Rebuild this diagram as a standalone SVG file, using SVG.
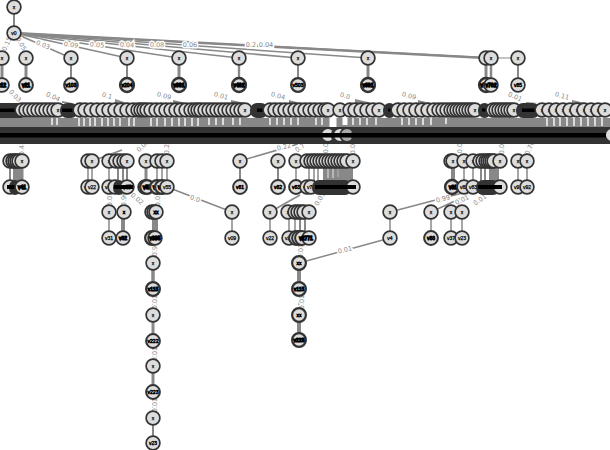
<svg xmlns="http://www.w3.org/2000/svg" width="610" height="450" viewBox="0 0 610 450">
<style>
svg{background:#fff}
.n circle{fill:#ddd;stroke:#333;stroke-width:1.7;r:6.9px}
.n text{font:5px "Liberation Sans",sans-serif;fill:#000;text-anchor:middle;dominant-baseline:central;stroke:#000;stroke-width:.25}
.e line{stroke:#888;stroke-width:1.5}
.l text{font:6.5px "DejaVu Sans",sans-serif;fill:#888;text-anchor:middle;dominant-baseline:central;stroke:#fff;stroke-width:3px;paint-order:stroke}
.d{fill:#333}
.b{fill:#000}
.t line{stroke:#fff;stroke-width:1.4}
.w{fill:#888}
</style>
<g style="opacity:.999">
<g id="connectors">
<g class="e">
<line x1="14" y1="7" x2="14" y2="33" style="stroke-width:2"/>
<line x1="14" y1="33" x2="2" y2="58"/><line x1="14" y1="33" x2="26" y2="58"/><line x1="14" y1="33" x2="71" y2="58"/><line x1="14" y1="33" x2="127" y2="58"/><line x1="14" y1="33" x2="179" y2="58"/><line x1="14" y1="33" x2="239" y2="58"/><line x1="14" y1="33" x2="298" y2="58"/><line x1="14" y1="33" x2="368" y2="58"/><line x1="14" y1="33" x2="486" y2="58" style="stroke-width:2.6"/><line x1="14" y1="33" x2="491" y2="58" style="stroke-width:1.6"/><line x1="491" y1="58" x2="518" y2="58" style="stroke-width:1"/>
<line x1="2" y1="58" x2="2" y2="85" style="stroke-width:3"/><line x1="26" y1="58" x2="26" y2="85" style="stroke-width:3"/><line x1="71" y1="58" x2="71" y2="85" style="stroke-width:2"/><line x1="127" y1="58" x2="127" y2="85" style="stroke-width:2"/><line x1="179" y1="58" x2="179" y2="85" style="stroke-width:3"/><line x1="239" y1="58" x2="239" y2="85" style="stroke-width:2.4"/><line x1="298" y1="58" x2="298" y2="85" style="stroke-width:2"/><line x1="368" y1="58" x2="368" y2="85" style="stroke-width:3"/><line x1="486" y1="58" x2="486" y2="85" style="stroke-width:3"/><line x1="491" y1="58" x2="491" y2="85" style="stroke-width:2.5"/><line x1="518" y1="58" x2="518" y2="85" style="stroke-width:2"/>
<line x1="10" y1="161" x2="10" y2="187" style="stroke-width:2"/><line x1="14" y1="161" x2="14" y2="187" style="stroke-width:2"/><line x1="19" y1="161" x2="19" y2="187" style="stroke-width:9"/>
<line x1="88" y1="161" x2="88" y2="187"/><line x1="92" y1="161" x2="92" y2="187"/><line x1="109" y1="161" x2="109" y2="187"/><line x1="118" y1="161" x2="118" y2="187" style="stroke-width:2"/><line x1="123" y1="161" x2="123" y2="187" style="stroke-width:2"/><line x1="127" y1="161" x2="127" y2="187" style="stroke-width:2"/>
<line x1="146" y1="161" x2="146" y2="187" style="stroke-width:3"/><line x1="157" y1="161" x2="157" y2="187"/><line x1="162" y1="161" x2="162" y2="187"/><line x1="167" y1="161" x2="167" y2="187"/><line x1="240" y1="161" x2="240" y2="187" style="stroke-width:2"/><line x1="278" y1="161" x2="278" y2="187" style="stroke-width:2"/><line x1="296" y1="161" x2="296" y2="187"/>
<line x1="309" y1="161" x2="309" y2="187"/><line x1="314" y1="161" x2="314" y2="187"/><line x1="318" y1="161" x2="318" y2="187"/><line x1="338" y1="168" x2="338" y2="187" style="stroke-width:30"/>
<line x1="453" y1="161" x2="453" y2="187" style="stroke-width:4"/><line x1="464" y1="161" x2="464" y2="187"/><line x1="473" y1="161" x2="473" y2="187"/><line x1="481" y1="161" x2="481" y2="187" style="stroke-width:2"/><line x1="485" y1="161" x2="485" y2="187" style="stroke-width:2"/><line x1="494" y1="161" x2="494" y2="187" style="stroke-width:10"/><line x1="518" y1="161" x2="518" y2="187"/><line x1="527" y1="161" x2="527" y2="187"/>
<line x1="109" y1="212" x2="109" y2="238"/><line x1="123" y1="212" x2="123" y2="238" style="stroke-width:4"/><line x1="155" y1="212" x2="155" y2="238" style="stroke-width:6"/><line x1="232" y1="212" x2="232" y2="238"/><line x1="270" y1="212" x2="270" y2="238"/><line x1="289" y1="212" x2="289" y2="238"/><line x1="295" y1="212" x2="295" y2="238"/><line x1="300" y1="212" x2="300" y2="238" style="stroke-width:2"/><line x1="305" y1="212" x2="305" y2="238" style="stroke-width:2"/><line x1="390" y1="212" x2="390" y2="238"/><line x1="431" y1="212" x2="431" y2="238"/><line x1="451" y1="212" x2="451" y2="238"/><line x1="462" y1="212" x2="462" y2="238"/>
<line x1="153" y1="238" x2="153" y2="263"/><line x1="153" y1="263" x2="153" y2="289" style="stroke-width:3.5"/><line x1="153" y1="289" x2="153" y2="315"/><line x1="153" y1="315" x2="153" y2="341" style="stroke-width:3"/><line x1="153" y1="341" x2="153" y2="366"/><line x1="153" y1="366" x2="153" y2="392" style="stroke-width:3"/><line x1="153" y1="392" x2="153" y2="418"/><line x1="153" y1="418" x2="153" y2="443" style="stroke-width:2"/>
<line x1="299" y1="238" x2="299" y2="263"/><line x1="299" y1="263" x2="299" y2="289" style="stroke-width:4"/><line x1="299" y1="289" x2="299" y2="315"/><line x1="299" y1="315" x2="299" y2="340" style="stroke-width:4"/>
<line x1="390" y1="238" x2="299" y2="263"/><line x1="167" y1="187" x2="232" y2="212"/><line x1="240" y1="161" x2="322" y2="137"/><line x1="390" y1="212" x2="470" y2="191"/><line x1="431" y1="212" x2="468" y2="195"/><line x1="270" y1="212" x2="300" y2="195"/><line x1="92" y1="161" x2="122" y2="150"/>
</g>
<rect class="w" x="0" y="118" width="610" height="9"/>
<g class="t">
<line x1="52" y1="118" x2="52" y2="125"/><line x1="57" y1="118" x2="57" y2="125"/><line x1="79" y1="118" x2="79" y2="126"/><line x1="84" y1="118" x2="84" y2="126"/><line x1="90" y1="118" x2="90" y2="126"/><line x1="95" y1="118" x2="95" y2="126"/><line x1="102" y1="118" x2="102" y2="126"/><line x1="108" y1="118" x2="108" y2="126"/><line x1="114" y1="118" x2="114" y2="126"/><line x1="120" y1="118" x2="120" y2="126"/><line x1="129" y1="118" x2="129" y2="126"/><line x1="134" y1="118" x2="134" y2="126"/><line x1="151" y1="118" x2="151" y2="126"/><line x1="157" y1="118" x2="157" y2="126"/><line x1="165" y1="118" x2="165" y2="126"/><line x1="172" y1="118" x2="172" y2="126"/><line x1="179" y1="118" x2="179" y2="126"/><line x1="185" y1="118" x2="185" y2="126"/><line x1="192" y1="118" x2="192" y2="126"/><line x1="198" y1="118" x2="198" y2="126"/><line x1="209" y1="118" x2="209" y2="125"/><line x1="216" y1="118" x2="216" y2="125"/><line x1="223" y1="118" x2="223" y2="125"/><line x1="233" y1="118" x2="233" y2="125"/><line x1="240" y1="118" x2="240" y2="125"/><line x1="270" y1="118" x2="270" y2="125"/><line x1="277" y1="118" x2="277" y2="125"/><line x1="284" y1="118" x2="284" y2="125"/><line x1="291" y1="118" x2="291" y2="125"/><line x1="298" y1="118" x2="298" y2="125"/><line x1="316" y1="118" x2="316" y2="125"/><line x1="322" y1="118" x2="322" y2="125"/>
<line x1="333" y1="118" x2="333" y2="127" style="stroke-width:7"/><line x1="345" y1="118" x2="345" y2="125" style="stroke-width:5"/>
<line x1="353" y1="118" x2="353" y2="125"/><line x1="360" y1="118" x2="360" y2="125"/><line x1="367" y1="118" x2="367" y2="125"/><line x1="376" y1="118" x2="376" y2="125"/><line x1="402" y1="118" x2="402" y2="125"/><line x1="409" y1="118" x2="409" y2="125"/><line x1="416" y1="118" x2="416" y2="125"/><line x1="423" y1="118" x2="423" y2="125"/><line x1="431" y1="118" x2="431" y2="125"/><line x1="446" y1="118" x2="446" y2="124"/><line x1="547" y1="118" x2="547" y2="126"/><line x1="554" y1="118" x2="554" y2="126"/><line x1="560" y1="118" x2="560" y2="126"/><line x1="567" y1="118" x2="567" y2="126"/><line x1="574" y1="118" x2="574" y2="126"/><line x1="581" y1="118" x2="581" y2="126"/><line x1="588" y1="118" x2="588" y2="126"/><line x1="595" y1="118" x2="595" y2="126"/><line x1="602" y1="118" x2="602" y2="126"/>
<line x1="328" y1="168" x2="328" y2="178" style="stroke:#ccc"/><line x1="333" y1="168" x2="333" y2="178" style="stroke:#ccc"/><line x1="338" y1="168" x2="338" y2="177" style="stroke:#aaa"/>
</g>
<g class="w">
<polygon points="115,99 127,103 115,103"/><polygon points="173,100 186,103 173,103"/><polygon points="231,100 245,103 231,103"/><polygon points="289,100 300,103 289,103"/><polygon points="355,99 372,103 355,103"/><polygon points="418,100 430,103 418,103"/><polygon points="526,102 538,103 526,103"/><polygon points="572,100 585,103 572,103"/><polygon points="62,101 72,103 62,103"/>
</g>
<g class="l">
<text x="7" y="44" transform="rotate(-65 7 44)">0.15</text><text x="21" y="44" transform="rotate(60 21 44)">0.05</text><text x="43" y="45" transform="rotate(22 43 45)">0.03</text><text x="71" y="45" transform="rotate(8 71 45)">0.09</text><text x="97" y="45" transform="rotate(5 97 45)">0.05</text><text x="127" y="45" transform="rotate(3 127 45)">0.04</text><text x="157" y="45" transform="rotate(2 157 45)">0.08</text><text x="190" y="45">0.06</text><text x="251" y="45">0.2</text><text x="266" y="45">0.04</text>
<text x="15" y="96" transform="rotate(45 15 96)">0.03</text><text x="53" y="97" transform="rotate(25 53 97)">0.04</text><text x="107" y="96" transform="rotate(15 107 96)">0.1</text><text x="164" y="96" transform="rotate(15 164 96)">0.09</text><text x="221" y="96" transform="rotate(15 221 96)">0.01</text><text x="278" y="96" transform="rotate(15 278 96)">0.04</text><text x="345" y="96" transform="rotate(15 345 96)">0.0</text><text x="409" y="96" transform="rotate(15 409 96)">0.09</text><text x="515" y="97" transform="rotate(25 515 97)">0.01</text><text x="562" y="96" transform="rotate(15 562 96)">0.11</text>
<text x="22" y="148" transform="rotate(-90 22 148)">0.41</text><text x="143" y="146" transform="rotate(-45 143 146)">0.08</text><text x="167" y="147" transform="rotate(-90 167 147)">0.21</text><text x="284" y="147" transform="rotate(-15 284 147)">0.22</text><text x="300" y="148" transform="rotate(-35 300 148)">0.7</text><text x="326" y="148" transform="rotate(-90 326 148)">0.0</text><text x="353" y="147" transform="rotate(-90 353 147)">0.05</text><text x="460" y="148" transform="rotate(-90 460 148)">0.0</text><text x="502" y="147" transform="rotate(-90 502 147)">0.01</text><text x="530" y="148" transform="rotate(-65 530 148)">0.76</text>
<text x="110" y="199" transform="rotate(-90 110 199)">0.01</text><text x="124" y="199" transform="rotate(-90 124 199)">0.96</text><text x="137" y="199" transform="rotate(40 137 199)">0.02</text><text x="158" y="199" transform="rotate(-90 158 199)">0.01</text><text x="195" y="199" transform="rotate(20 195 199)">0.0</text><text x="320" y="199" transform="rotate(-60 320 199)">0.01</text><text x="443" y="199" transform="rotate(-15 443 199)">0.99</text><text x="462" y="200" transform="rotate(-25 462 200)">0.01</text><text x="480" y="200" transform="rotate(-35 480 200)">0.01</text>
<text x="155" y="251" transform="rotate(-90 155 251)">0.9</text><text x="155" y="302" transform="rotate(-90 155 302)">0.01</text><text x="155" y="354" transform="rotate(-90 155 354)">0.01</text><text x="155" y="405" transform="rotate(-90 155 405)">0.01</text><text x="301" y="251" transform="rotate(-90 301 251)">0.01</text><text x="302" y="302" transform="rotate(-90 302 302)">0.01</text><text x="345" y="250" transform="rotate(-15 345 250)">0.01</text>
</g>
</g>
<g id="bus-y135">
<rect class="d" x="0" y="127" width="610" height="17"/>
<g class="n" id="n135a"><circle cx="328" cy="135"/></g>
<rect class="d" x="331" y="127" width="14" height="17" rx="8"/>
<g class="n" id="n135b"><circle cx="340" cy="135"/></g>
<rect class="d" x="343" y="127" width="14" height="17" rx="8"/>
<g class="n" id="n135c"><circle cx="347" cy="135" style="fill:#aaa"/></g>
<rect class="d" x="351" y="127" width="252" height="17" rx="8"/>
<g class="n" id="n135z"><circle cx="612" cy="135"/></g>
<rect class="b" x="0" y="133" width="606" height="4.5"/>
</g>
<g id="n-top">
<g class="n" id="r"><circle cx="14" cy="7"/><text x="14" y="7">x</text></g>
<g class="n" id="v0"><circle cx="14" cy="33"/><text x="14" y="33">v0</text></g>
<g class="n" id="a1"><circle cx="2" cy="58"/><text x="2" y="58">x</text></g><g class="n" id="a1b"><circle cx="2" cy="85"/><text x="2" y="85" style="stroke-width:1.4">v12</text></g>
<g class="n" id="a2"><circle cx="26" cy="58"/><text x="26" y="58">x</text></g><g class="n" id="a2b"><circle cx="26" cy="85" style="stroke-width:2"/><text x="26" y="85" style="stroke-width:1.4">v21</text></g>
<g class="n" id="a3"><circle cx="71" cy="58"/><text x="71" y="58">x</text></g><g class="n" id="a3b"><circle cx="71" cy="85" style="stroke-width:2"/><text x="71" y="85" style="stroke-width:.9">v103</text></g>
<g class="n" id="a4"><circle cx="127" cy="58"/><text x="127" y="58">x</text></g><g class="n" id="a4b"><circle cx="127" cy="85" style="stroke-width:2.5"/><text x="127" y="85" style="stroke-width:.9">v204</text></g>
<g class="n" id="a5"><circle cx="179" cy="58"/><text x="179" y="58">x</text></g><g class="n" id="a5b"><circle cx="179" cy="85" style="stroke-width:2.5"/><text x="179" y="85" style="stroke-width:1.4">v301</text></g>
<g class="n" id="a6"><circle cx="239" cy="58"/><text x="239" y="58">x</text></g><g class="n" id="a6b"><circle cx="239" cy="85" style="stroke-width:2.5"/><text x="239" y="85" style="stroke-width:1.4">v402</text></g>
<g class="n" id="a7"><circle cx="298" cy="58"/><text x="298" y="58">x</text></g><g class="n" id="a7b"><circle cx="298" cy="85" style="stroke-width:2.2"/><text x="298" y="85" style="stroke-width:.7">v503</text></g>
<g class="n" id="a8"><circle cx="368" cy="58"/><text x="368" y="58">x</text></g><g class="n" id="a8b"><circle cx="368" cy="85" style="stroke-width:2.5"/><text x="368" y="85" style="stroke-width:1.4">v601</text></g>
<g class="n" id="a9"><circle cx="486" cy="58"/><text x="486" y="58">x</text></g><g class="n" id="a9b"><circle cx="486" cy="85" style="stroke-width:2.5"/><text x="486" y="85" style="stroke-width:1.4">v701</text></g>
<g class="n" id="a10"><circle cx="491" cy="58"/><text x="491" y="58">x</text></g><g class="n" id="a10b"><circle cx="491" cy="85"/><text x="491" y="85" style="stroke-width:1.4">v702</text></g>
<g class="n" id="a11"><circle cx="518" cy="58"/><text x="518" y="58">x</text></g><g class="n" id="a11b"><circle cx="518" cy="85"/><text x="518" y="85" style="stroke-width:.5">v85</text></g>
</g>
<g id="row-y110">
<rect class="d" x="-10" y="103" width="32" height="15"/><rect class="b" x="-10" y="108.5" width="30" height="3.5"/>
<g class="n" id="m1"><circle cx="22" cy="110"/><text x="22" y="110">x</text></g>
<g class="n" id="m2"><circle cx="26" cy="110"/><text x="26" y="110">x</text></g>
<g class="n" id="m3"><circle cx="30" cy="110"/><text x="30" y="110">x</text></g>
<g class="n" id="m4"><circle cx="34" cy="110"/><text x="34" y="110">x</text></g>
<g class="n" id="m5"><circle cx="38" cy="110"/><text x="38" y="110">x</text></g>
<g class="n" id="m6"><circle cx="42" cy="110"/><text x="42" y="110">x</text></g>
<g class="n" id="m7"><circle cx="46" cy="110"/><text x="46" y="110">x</text></g>
<g class="n" id="m8"><circle cx="50" cy="110"/><text x="50" y="110">x</text></g>
<g class="n" id="m9"><circle cx="54" cy="110"/><text x="54" y="110">x</text></g>
<g class="n" id="m10"><circle cx="58" cy="110"/><text x="58" y="110">x</text></g>
<rect class="d" x="60" y="103" width="18" height="15" rx="7"/><rect class="b" x="62" y="108.5" width="14" height="3.5"/>
<g class="n" id="m11"><circle cx="80" cy="110"/><text x="80" y="110">x</text></g>
<g class="n" id="m12"><circle cx="85" cy="110"/><text x="85" y="110">x</text></g>
<g class="n" id="m13"><circle cx="91" cy="110"/><text x="91" y="110">x</text></g>
<g class="n" id="m14"><circle cx="97" cy="110"/><text x="97" y="110">x</text></g>
<g class="n" id="m15"><circle cx="103" cy="110"/><text x="103" y="110">x</text></g>
<g class="n" id="m16"><circle cx="109" cy="110"/><text x="109" y="110">x</text></g>
<g class="n" id="m17"><circle cx="115" cy="110"/><text x="115" y="110">x</text></g>
<g class="n" id="m18"><circle cx="121" cy="110"/><text x="121" y="110">x</text></g>
<g class="n" id="m19"><circle cx="127" cy="110"/><text x="127" y="110">x</text></g>
<g class="n" id="m20"><circle cx="133" cy="110"/><text x="133" y="110">x</text></g>
<g class="n" id="m21"><circle cx="138" cy="110"/><text x="138" y="110">x</text></g>
<g class="n" id="m22"><circle cx="141" cy="110"/><text x="141" y="110">x</text></g>
<g class="n" id="m23"><circle cx="144" cy="110"/><text x="144" y="110">x</text></g>
<g class="n" id="m24"><circle cx="147" cy="110"/><text x="147" y="110">x</text></g>
<g class="n" id="m25"><circle cx="151" cy="110"/><text x="151" y="110">x</text></g>
<g class="n" id="m26"><circle cx="156" cy="110"/><text x="156" y="110">x</text></g>
<g class="n" id="m27"><circle cx="161" cy="110"/><text x="161" y="110">x</text></g>
<g class="n" id="m28"><circle cx="166" cy="110"/><text x="166" y="110">x</text></g>
<g class="n" id="m29"><circle cx="171" cy="110"/><text x="171" y="110">x</text></g>
<g class="n" id="m30"><circle cx="176" cy="110"/><text x="176" y="110">x</text></g>
<g class="n" id="m31"><circle cx="181" cy="110"/><text x="181" y="110">x</text></g>
<g class="n" id="m32"><circle cx="186" cy="110"/><text x="186" y="110">x</text></g>
<g class="n" id="m33"><circle cx="191" cy="110"/><text x="191" y="110">x</text></g>
<g class="n" id="m34"><circle cx="195" cy="110"/><text x="195" y="110">x</text></g>
<g class="n" id="m35"><circle cx="198" cy="110"/><text x="198" y="110">x</text></g>
<g class="n" id="m36"><circle cx="201" cy="110"/><text x="201" y="110">x</text></g>
<g class="n" id="m37"><circle cx="205" cy="110"/><text x="205" y="110">x</text></g>
<g class="n" id="m38"><circle cx="209" cy="110"/><text x="209" y="110">x</text></g>
<g class="n" id="m39"><circle cx="213" cy="110"/><text x="213" y="110">x</text></g>
<g class="n" id="m40"><circle cx="217" cy="110"/><text x="217" y="110">x</text></g>
<g class="n" id="m41"><circle cx="221" cy="110"/><text x="221" y="110">x</text></g>
<g class="n" id="m42"><circle cx="225" cy="110"/><text x="225" y="110">x</text></g>
<g class="n" id="m43"><circle cx="229" cy="110"/><text x="229" y="110">x</text></g>
<g class="n" id="m44"><circle cx="233" cy="110"/><text x="233" y="110">x</text></g>
<g class="n" id="m45"><circle cx="237" cy="110"/><text x="237" y="110">x</text></g>
<g class="n" id="m46"><circle cx="241" cy="110"/><text x="241" y="110">x</text></g>
<g class="n" id="m47"><circle cx="245" cy="110"/><text x="245" y="110">x</text></g>
<rect class="d" x="250" y="103" width="18" height="15" rx="7"/><rect class="b" x="257" y="108.5" width="11" height="3.5"/>
<g class="n" id="m48"><circle cx="270" cy="110"/><text x="270" y="110">x</text></g>
<g class="n" id="m49"><circle cx="275" cy="110"/><text x="275" y="110">x</text></g>
<g class="n" id="m50"><circle cx="280" cy="110"/><text x="280" y="110">x</text></g>
<g class="n" id="m51"><circle cx="285" cy="110"/><text x="285" y="110">x</text></g>
<g class="n" id="m52"><circle cx="290" cy="110"/><text x="290" y="110">x</text></g>
<g class="n" id="m53"><circle cx="295" cy="110"/><text x="295" y="110">x</text></g>
<g class="n" id="m54"><circle cx="300" cy="110"/><text x="300" y="110">x</text></g>
<g class="n" id="m55"><circle cx="305" cy="110"/><text x="305" y="110">x</text></g>
<g class="n" id="m56"><circle cx="310" cy="110"/><text x="310" y="110">x</text></g>
<g class="n" id="m57"><circle cx="315" cy="110"/><text x="315" y="110">x</text></g>
<g class="n" id="m58"><circle cx="320" cy="110"/><text x="320" y="110">x</text></g>
<g class="n" id="m59"><circle cx="325" cy="110"/><text x="325" y="110">x</text></g>
<g class="n" id="m60"><circle cx="328" cy="110"/><text x="328" y="110">x</text></g>
<g class="n" id="m61"><circle cx="340" cy="110"/><text x="340" y="110">x</text></g>
<g class="n" id="m62"><circle cx="350" cy="110"/><text x="350" y="110">x</text></g>
<g class="n" id="m63"><circle cx="355" cy="110"/><text x="355" y="110">x</text></g>
<g class="n" id="m64"><circle cx="361" cy="110"/><text x="361" y="110">x</text></g>
<g class="n" id="m65"><circle cx="367" cy="110"/><text x="367" y="110">x</text></g>
<g class="n" id="m66"><circle cx="373" cy="110"/><text x="373" y="110">x</text></g>
<g class="n" id="m67"><circle cx="379" cy="110"/><text x="379" y="110">x</text></g>
<rect class="d" x="383" y="103" width="13" height="15" rx="7"/><rect class="b" x="388" y="108.5" width="8" height="3"/>
<g class="n" id="m68"><circle cx="398" cy="110"/><text x="398" y="110">x</text></g>
<g class="n" id="m69"><circle cx="404" cy="110"/><text x="404" y="110">x</text></g>
<g class="n" id="m70"><circle cx="410" cy="110"/><text x="410" y="110">x</text></g>
<g class="n" id="m71"><circle cx="416" cy="110"/><text x="416" y="110">x</text></g>
<g class="n" id="m72"><circle cx="422" cy="110"/><text x="422" y="110">x</text></g>
<g class="n" id="m73"><circle cx="428" cy="110"/><text x="428" y="110">x</text></g>
<g class="n" id="m74"><circle cx="434" cy="110"/><text x="434" y="110">x</text></g>
<g class="n" id="m75"><circle cx="439" cy="110"/><text x="439" y="110">x</text></g>
<g class="n" id="m76"><circle cx="443" cy="110"/><text x="443" y="110">x</text></g>
<g class="n" id="m77"><circle cx="447" cy="110"/><text x="447" y="110">x</text></g>
<g class="n" id="m78"><circle cx="451" cy="110"/><text x="451" y="110">x</text></g>
<g class="n" id="m79"><circle cx="454" cy="110"/><text x="454" y="110">x</text></g>
<g class="n" id="m80"><circle cx="457" cy="110"/><text x="457" y="110">x</text></g>
<g class="n" id="m81"><circle cx="460" cy="110"/><text x="460" y="110">x</text></g>
<g class="n" id="m82"><circle cx="463" cy="110"/><text x="463" y="110">x</text></g>
<g class="n" id="m83"><circle cx="466" cy="110"/><text x="466" y="110">x</text></g>
<g class="n" id="m84"><circle cx="469" cy="110"/><text x="469" y="110">x</text></g>
<g class="n" id="m85"><circle cx="472" cy="110"/><text x="472" y="110">x</text></g>
<g class="n" id="m86"><circle cx="475" cy="110"/><text x="475" y="110">x</text></g>
<rect class="d" x="478" y="103" width="13" height="15" rx="7"/><rect class="b" x="482" y="108.5" width="8" height="3"/>
<g class="n" id="m87"><circle cx="493" cy="110"/><text x="493" y="110">x</text></g>
<g class="n" id="m88"><circle cx="496" cy="110"/><text x="496" y="110">x</text></g>
<g class="n" id="m89"><circle cx="499" cy="110"/><text x="499" y="110">x</text></g>
<g class="n" id="m90"><circle cx="502" cy="110"/><text x="502" y="110">x</text></g>
<g class="n" id="m91"><circle cx="505" cy="110"/><text x="505" y="110">x</text></g>
<g class="n" id="m92"><circle cx="508" cy="110"/><text x="508" y="110">x</text></g>
<g class="n" id="m93"><circle cx="511" cy="110"/><text x="511" y="110">x</text></g>
<g class="n" id="m94"><circle cx="514" cy="110"/><text x="514" y="110">x</text></g>
<rect class="d" x="516" y="103" width="24" height="15" rx="7"/><rect class="b" x="522" y="108.5" width="16" height="3.5"/>
<g class="n" id="m95"><circle cx="542" cy="110"/><text x="542" y="110">x</text></g>
<g class="n" id="m96"><circle cx="549" cy="110"/><text x="549" y="110">x</text></g>
<g class="n" id="m97"><circle cx="556" cy="110"/><text x="556" y="110">x</text></g>
<g class="n" id="m98"><circle cx="563" cy="110"/><text x="563" y="110">x</text></g>
<g class="n" id="m99"><circle cx="570" cy="110"/><text x="570" y="110">x</text></g>
<g class="n" id="m100"><circle cx="577" cy="110"/><text x="577" y="110">x</text></g>
<g class="n" id="m101"><circle cx="584" cy="110"/><text x="584" y="110">x</text></g>
<g class="n" id="m102"><circle cx="591" cy="110"/><text x="591" y="110">x</text></g>
<g class="n" id="m103"><circle cx="598" cy="110"/><text x="598" y="110">x</text></g>
<g class="n" id="m104"><circle cx="605" cy="110"/><text x="605" y="110">x</text></g>
</g>
<g id="row-y161">
<g class="n" id="b1"><circle cx="10" cy="161"/><text x="10" y="161">x</text></g><g class="n" id="b2"><circle cx="13" cy="161"/><text x="13" y="161">x</text></g><g class="n" id="b3"><circle cx="15" cy="161"/><text x="15" y="161">x</text></g><g class="n" id="b4"><circle cx="17" cy="161"/><text x="17" y="161">x</text></g><g class="n" id="b5"><circle cx="19" cy="161"/><text x="19" y="161">x</text></g><g class="n" id="b6"><circle cx="22" cy="161"/><text x="22" y="161">x</text></g>
<g class="n" id="b7"><circle cx="88" cy="161"/><text x="88" y="161">x</text></g><g class="n" id="b8"><circle cx="92" cy="161"/><text x="92" y="161">x</text></g>
<g class="n" id="b9"><circle cx="109" cy="161"/><text x="109" y="161">x</text></g><g class="n" id="b10"><circle cx="116" cy="161"/><text x="116" y="161">x</text></g><g class="n" id="b11"><circle cx="120" cy="161"/><text x="120" y="161">x</text></g><g class="n" id="b12"><circle cx="124" cy="161"/><text x="124" y="161">x</text></g><g class="n" id="b13"><circle cx="127" cy="161"/><text x="127" y="161">x</text></g>
<g class="n" id="b14"><circle cx="146" cy="161"/><text x="146" y="161">x</text></g><g class="n" id="b15"><circle cx="157" cy="161"/><text x="157" y="161">x</text></g><g class="n" id="b16"><circle cx="162" cy="161"/><text x="162" y="161">x</text></g><g class="n" id="b17"><circle cx="167" cy="161"/><text x="167" y="161">x</text></g>
<g class="n" id="b18"><circle cx="240" cy="161"/><text x="240" y="161">x</text></g><g class="n" id="b19"><circle cx="278" cy="161"/><text x="278" y="161">x</text></g><g class="n" id="b20"><circle cx="296" cy="161"/><text x="296" y="161">x</text></g>
<g class="n" id="b21"><circle cx="307" cy="161"/><text x="307" y="161">x</text></g><g class="n" id="b22"><circle cx="311" cy="161"/><text x="311" y="161">x</text></g><g class="n" id="b23"><circle cx="314" cy="161"/><text x="314" y="161">x</text></g><g class="n" id="b24"><circle cx="317" cy="161"/><text x="317" y="161">x</text></g><g class="n" id="b25"><circle cx="320" cy="161"/><text x="320" y="161">x</text></g><g class="n" id="b26"><circle cx="323" cy="161"/><text x="323" y="161">x</text></g><g class="n" id="b27"><circle cx="326" cy="161"/><text x="326" y="161">x</text></g><g class="n" id="b28"><circle cx="329" cy="161"/><text x="329" y="161">x</text></g><g class="n" id="b29"><circle cx="332" cy="161"/><text x="332" y="161">x</text></g><g class="n" id="b30"><circle cx="335" cy="161"/><text x="335" y="161">x</text></g><g class="n" id="b31"><circle cx="338" cy="161"/><text x="338" y="161">x</text></g><g class="n" id="b32"><circle cx="341" cy="161"/><text x="341" y="161">x</text></g><g class="n" id="b33"><circle cx="344" cy="161"/><text x="344" y="161">x</text></g><g class="n" id="b34"><circle cx="347" cy="161"/><text x="347" y="161">x</text></g><g class="n" id="b35"><circle cx="353" cy="161"/><text x="353" y="161">x</text></g>
<g class="n" id="b36"><circle cx="451" cy="161"/><text x="451" y="161">x</text></g><g class="n" id="b37"><circle cx="453" cy="161"/><text x="453" y="161">x</text></g><g class="n" id="b38"><circle cx="464" cy="161"/><text x="464" y="161">x</text></g><g class="n" id="b39"><circle cx="473" cy="161"/><text x="473" y="161">x</text></g><g class="n" id="b40"><circle cx="480" cy="161"/><text x="480" y="161">x</text></g><g class="n" id="b41"><circle cx="483" cy="161"/><text x="483" y="161">x</text></g><g class="n" id="b42"><circle cx="486" cy="161"/><text x="486" y="161">x</text></g><g class="n" id="b43"><circle cx="488" cy="161"/><text x="488" y="161">x</text></g><g class="n" id="b44"><circle cx="490" cy="161"/><text x="490" y="161">x</text></g><g class="n" id="b45"><circle cx="492" cy="161"/><text x="492" y="161">x</text></g><g class="n" id="b46"><circle cx="494" cy="161"/><text x="494" y="161">x</text></g><g class="n" id="b47"><circle cx="500" cy="161"/><text x="500" y="161">x</text></g>
<g class="n" id="b48"><circle cx="518" cy="161"/><text x="518" y="161">x</text></g><g class="n" id="b49"><circle cx="527" cy="161"/><text x="527" y="161">x</text></g>
</g>
<g id="row-y187">
<g class="n" id="c0"><circle cx="10" cy="187"/></g>
<rect class="d" x="9" y="180" width="12" height="15" rx="7"/><rect class="b" x="7" y="185" width="19" height="4"/>
<g class="n" id="c1"><circle cx="22" cy="187"/><text x="22" y="187" style="stroke-width:1.4">v41</text></g>
<g class="n" id="c2"><circle cx="88" cy="187"/><text x="88" y="187">v22</text></g><g class="n" id="c3"><circle cx="92" cy="187"/><text x="92" y="187">v22</text></g>
<g class="n" id="c4"><circle cx="109" cy="187"/><text x="109" y="187">v31</text></g><g class="n" id="c5"><circle cx="115" cy="187"/></g><rect class="d" x="113" y="180" width="12" height="15" rx="7"/>
<g class="n" id="c10"><circle cx="127" cy="187"/><text x="127" y="187" style="stroke-width:1.2">v37</text></g><rect class="b" x="114" y="185" width="19" height="4"/>
<g class="n" id="c11"><circle cx="145" cy="187"/></g><g class="n" id="c12"><circle cx="147" cy="187" style="stroke-width:2.4"/><text x="147" y="187" style="stroke-width:1.4">v52</text></g><g class="n" id="c13"><circle cx="157" cy="187" style="stroke-width:2.2"/><text x="157" y="187" style="stroke-width:1.4">v53</text></g><g class="n" id="c14"><circle cx="162" cy="187" style="stroke-width:2.2"/><text x="162" y="187" style="stroke-width:1.4">v54</text></g><g class="n" id="c15"><circle cx="167" cy="187"/><text x="167" y="187">v55</text></g>
<g class="n" id="c16"><circle cx="240" cy="187" style="stroke-width:2"/><text x="240" y="187" style="stroke-width:.6">v61</text></g><g class="n" id="c17"><circle cx="278" cy="187" style="stroke-width:2"/><text x="278" y="187" style="stroke-width:.6">v62</text></g><g class="n" id="c18"><circle cx="296" cy="187" style="stroke-width:2"/><text x="296" y="187" style="stroke-width:.6">v63</text></g>
<g class="n" id="c19"><circle cx="307" cy="187"/><text x="307" y="187">v71</text></g><g class="n" id="c20"><circle cx="311" cy="187"/><text x="311" y="187">v72</text></g>
<rect class="d" x="312" y="180" width="40" height="15" rx="7"/>
<g class="n" id="c21"><circle cx="353" cy="187"/></g><rect class="b" x="315" y="185" width="41" height="4"/>
<g class="n" id="c22"><circle cx="452" cy="187" style="stroke-width:2.5"/><text x="453" y="187" style="stroke-width:1.4">v81</text></g><g class="n" id="c23"><circle cx="464" cy="187"/><text x="464" y="187">v82</text></g><g class="n" id="c24"><circle cx="473" cy="187"/><text x="473" y="187">v83</text></g>
<rect class="d" x="476" y="180" width="24" height="15" rx="7"/>
<g class="n" id="c25"><circle cx="500" cy="187"/></g><rect class="b" x="478" y="185" width="24" height="4"/>
<g class="n" id="c26"><circle cx="518" cy="187"/><text x="518" y="187">v91</text></g><g class="n" id="c27"><circle cx="527" cy="187"/><text x="527" y="187">v92</text></g>
</g>
<g id="row-y212">
<g class="n" id="d1"><circle cx="109" cy="212"/><text x="109" y="212">x</text></g><g class="n" id="d2"><circle cx="124" cy="212"/><text x="124" y="212" style="stroke-width:.6">x</text></g><g class="n" id="d3"><circle cx="152" cy="212"/></g><g class="n" id="d4"><circle cx="154" cy="212"/></g><g class="n" id="d5"><circle cx="156" cy="212"/><text x="156" y="212" style="stroke-width:.8">xx</text></g>
<g class="n" id="d6"><circle cx="232" cy="212"/><text x="232" y="212">x</text></g><g class="n" id="d7"><circle cx="270" cy="212"/><text x="270" y="212">x</text></g><g class="n" id="d8"><circle cx="288" cy="212"/><text x="288" y="212">x</text></g><g class="n" id="d9"><circle cx="295" cy="212"/><text x="295" y="212">x</text></g><g class="n" id="d10"><circle cx="298" cy="212"/><text x="298" y="212">x</text></g><g class="n" id="d11"><circle cx="301" cy="212"/><text x="301" y="212">x</text></g><g class="n" id="d12"><circle cx="304" cy="212"/><text x="304" y="212">x</text></g><g class="n" id="d13"><circle cx="309" cy="212"/><text x="309" y="212">x</text></g>
<g class="n" id="d14"><circle cx="390" cy="212"/><text x="390" y="212">x</text></g><g class="n" id="d15"><circle cx="431" cy="212"/><text x="431" y="212">x</text></g><g class="n" id="d16"><circle cx="451" cy="212"/><text x="451" y="212">x</text></g><g class="n" id="d17"><circle cx="462" cy="212"/><text x="462" y="212">x</text></g>
</g>
<g id="row-y238">
<g class="n" id="f1"><circle cx="109" cy="238"/><text x="109" y="238">v31</text></g><g class="n" id="f2"><circle cx="123" cy="238"/><text x="123" y="238" style="stroke-width:1.2">v32</text></g><g class="n" id="f3"><circle cx="152" cy="238" style="stroke-width:2.2"/></g><g class="n" id="f4"><circle cx="155" cy="238"/><text x="155" y="238" style="stroke-width:1.4">v335</text></g>
<g class="n" id="f5"><circle cx="232" cy="238"/><text x="232" y="238">v09</text></g><g class="n" id="f6"><circle cx="270" cy="238"/><text x="270" y="238">v22</text></g><g class="n" id="f7"><circle cx="289" cy="238"/><text x="289" y="238">v23</text></g><g class="n" id="f8"><circle cx="296" cy="238" style="stroke-width:2"/></g><g class="n" id="f9"><circle cx="299" cy="238" style="stroke-width:2"/></g><g class="n" id="f10"><circle cx="302" cy="238" style="stroke-width:2"/></g><g class="n" id="f11"><circle cx="309" cy="238"/><text x="306" y="238" style="stroke-width:1.4">v2771</text></g>
<g class="n" id="f12"><circle cx="390" cy="238"/><text x="390" y="238">v4</text></g><g class="n" id="f13"><circle cx="431" cy="238" style="stroke-width:2"/><text x="431" y="238" style="stroke-width:.8">v88</text></g><g class="n" id="f14"><circle cx="451" cy="238"/><text x="451" y="238">v37</text></g><g class="n" id="f15"><circle cx="462" cy="238"/><text x="462" y="238">v23</text></g>
</g>
<g id="chain-153">
<g class="n" id="h1"><circle cx="153" cy="263"/><text x="153" y="263">x</text></g><g class="n" id="h2"><circle cx="153" cy="289" style="stroke-width:2.2"/><text x="153" y="289" style="stroke-width:1">v115</text></g><g class="n" id="h3"><circle cx="153" cy="315"/><text x="153" y="315">x</text></g><g class="n" id="h4"><circle cx="153" cy="341" style="stroke-width:2"/><text x="153" y="341" style="stroke-width:.6">v222</text></g><g class="n" id="h5"><circle cx="153" cy="366"/><text x="153" y="366">x</text></g><g class="n" id="h6"><circle cx="153" cy="392" style="stroke-width:2"/><text x="153" y="392" style="stroke-width:.6">v223</text></g><g class="n" id="h7"><circle cx="153" cy="418"/><text x="153" y="418">x</text></g><g class="n" id="h8"><circle cx="153" cy="443"/><text x="153" y="443" style="stroke-width:.4">v23</text></g>
</g>
<g id="chain-299">
<g class="n" id="k1"><circle cx="299" cy="263" style="stroke-width:2.2"/><text x="299" y="263" style="stroke-width:.6">xx</text></g><g class="n" id="k2"><circle cx="299" cy="289" style="stroke-width:2.2"/><text x="299" y="289" style="stroke-width:1">v115</text></g><g class="n" id="k3"><circle cx="299" cy="315" style="stroke-width:2.2"/><text x="299" y="315" style="stroke-width:.6">xx</text></g><g class="n" id="k4"><circle cx="299" cy="340" style="stroke-width:2.2"/><text x="299" y="340" style="stroke-width:1.2">v225</text></g>
</g>
</g>
</svg>
